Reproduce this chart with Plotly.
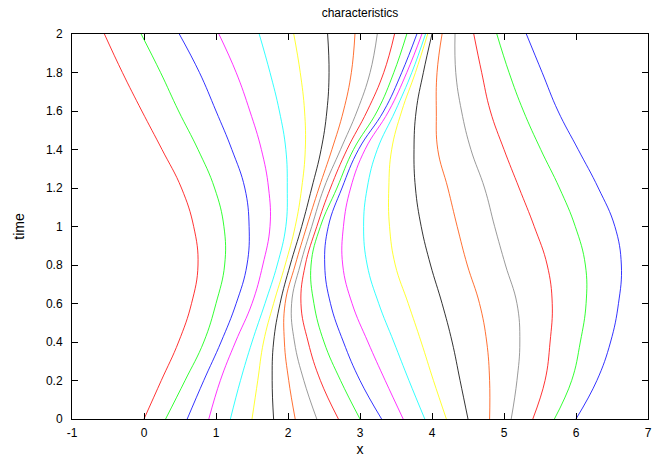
import plotly.graph_objects as go

# time samples (shared by every characteristic)
times = [0.0, 0.2, 0.4, 0.6, 0.8, 1.0, 1.2, 1.4, 1.6, 1.8, 2.0]

# x position of each characteristic at the times above
c01 = [0.0, 0.24, 0.48, 0.66, 0.75, 0.69, 0.52, 0.25, -0.03, -0.30, -0.55]
c02 = [0.3, 0.57, 0.83, 1.00, 1.12, 1.11, 0.98, 0.75, 0.48, 0.23, -0.04]
c03 = [0.6, 0.83, 1.07, 1.28, 1.43, 1.46, 1.40, 1.22, 1.00, 0.77, 0.49]
c04 = [0.9, 1.06, 1.27, 1.50, 1.65, 1.75, 1.73, 1.63, 1.47, 1.28, 1.04]
c05 = [1.2, 1.34, 1.50, 1.68, 1.85, 1.97, 1.99, 1.97, 1.88, 1.75, 1.60]
c06 = [1.5, 1.58, 1.66, 1.80, 1.96, 2.10, 2.19, 2.24, 2.23, 2.17, 2.08]
c07 = [1.8, 1.78, 1.80, 1.89, 2.03, 2.19, 2.33, 2.46, 2.54, 2.57, 2.55]
c08 = [2.1, 2.01, 1.95, 1.96, 2.10, 2.26, 2.43, 2.61, 2.77, 2.88, 2.93]
c09 = [2.4, 2.22, 2.09, 2.05, 2.17, 2.33, 2.50, 2.73, 2.96, 3.14, 3.24]
c10 = [2.7, 2.45, 2.28, 2.18, 2.24, 2.40, 2.59, 2.82, 3.10, 3.33, 3.48]
c11 = [3.0, 2.73, 2.50, 2.36, 2.32, 2.45, 2.68, 2.91, 3.24, 3.47, 3.65]
c12 = [3.3, 3.00, 2.77, 2.59, 2.51, 2.56, 2.75, 2.98, 3.33, 3.58, 3.79]
c13 = [3.6, 3.35, 3.11, 2.89, 2.76, 2.77, 2.87, 3.07, 3.40, 3.65, 3.86]
c14 = [3.9, 3.68, 3.47, 3.26, 3.10, 3.05, 3.10, 3.24, 3.49, 3.72, 3.91]
c15 = [4.2, 4.02, 3.85, 3.67, 3.49, 3.41, 3.40, 3.44, 3.58, 3.77, 3.94]
c16 = [4.5, 4.39, 4.28, 4.14, 3.98, 3.85, 3.77, 3.75, 3.78, 3.88, 4.00]
c17 = [4.8, 4.80, 4.76, 4.66, 4.49, 4.35, 4.22, 4.08, 4.06, 4.07, 4.14]
c18 = [5.1, 5.18, 5.22, 5.18, 5.02, 4.87, 4.73, 4.54, 4.41, 4.33, 4.32]
c19 = [5.4, 5.57, 5.64, 5.67, 5.60, 5.42, 5.21, 5.00, 4.81, 4.69, 4.58]
c20 = [5.7, 5.94, 6.06, 6.14, 6.13, 5.99, 5.77, 5.51, 5.27, 5.07, 4.90]
c21 = [6.0, 6.29, 6.48, 6.59, 6.63, 6.54, 6.31, 6.03, 5.75, 5.53, 5.31]

curves = [c01, c02, c03, c04, c05, c06, c07, c08, c09, c10, c11,
          c12, c13, c14, c15, c16, c17, c18, c19, c20, c21]

# gnuplot postscript-style line colours, cycling
palette = ["#ff0000", "#00ff00", "#0000ff", "#ff00ff", "#00ffff",
           "#ffff00", "#000000", "#ff4d00", "#808080"]

x_tick_vals = [-1, 0, 1, 2, 3, 4, 5, 6, 7]
x_tick_text = ["-1", "0", "1", "2", "3", "4", "5", "6", "7"]
y_tick_vals = [0, 0.2, 0.4, 0.6, 0.8, 1.0, 1.2, 1.4, 1.6, 1.8, 2.0]
y_tick_text = ["0", "0.2", "0.4", "0.6", "0.8", "1", "1.2", "1.4", "1.6", "1.8", "2"]

fig = go.Figure()
for i, xs in enumerate(curves):
    fig.add_trace(go.Scatter(
        x=xs, y=times, mode="lines",
        line=dict(color=palette[i % len(palette)], width=0.8, shape="spline", smoothing=1.2),
        showlegend=False, hoverinfo="skip"))

font = dict(family="Liberation Sans, Arial, Helvetica, sans-serif", size=12, color="#000000")

fig.update_layout(
    width=663, height=457,
    margin=dict(l=72, r=15, t=34, b=38, autoexpand=False),
    paper_bgcolor="white", plot_bgcolor="white",
    font=font,
    title=dict(text="characteristics", x=0.5, xanchor="center", y=0.972, yanchor="middle",
               xref="paper", font=dict(size=12)),
    showlegend=False,
)
fig.update_xaxes(
    range=[-1, 7], tickvals=x_tick_vals, ticktext=x_tick_text, automargin=False,
    showgrid=False, zeroline=False, showline=True, linecolor="black", linewidth=1,
    mirror="ticks", ticks="inside", ticklen=6, tickcolor="black", tickwidth=1,
    ticklabelstandoff=3,
    title=dict(text="x", standoff=10), tickfont=dict(size=12))
fig.update_yaxes(
    range=[0, 2], tickvals=y_tick_vals, ticktext=y_tick_text, automargin=False,
    showgrid=False, zeroline=False, showline=True, linecolor="black", linewidth=1,
    mirror="ticks", ticks="inside", ticklen=6, tickcolor="black", tickwidth=1,
    ticklabelstandoff=6,
    title=dict(text="time", standoff=18), tickfont=dict(size=12))

fig.write_html("out.html", config={"displayModeBar": False},
               post_script="document.body.style.margin='0px';")
